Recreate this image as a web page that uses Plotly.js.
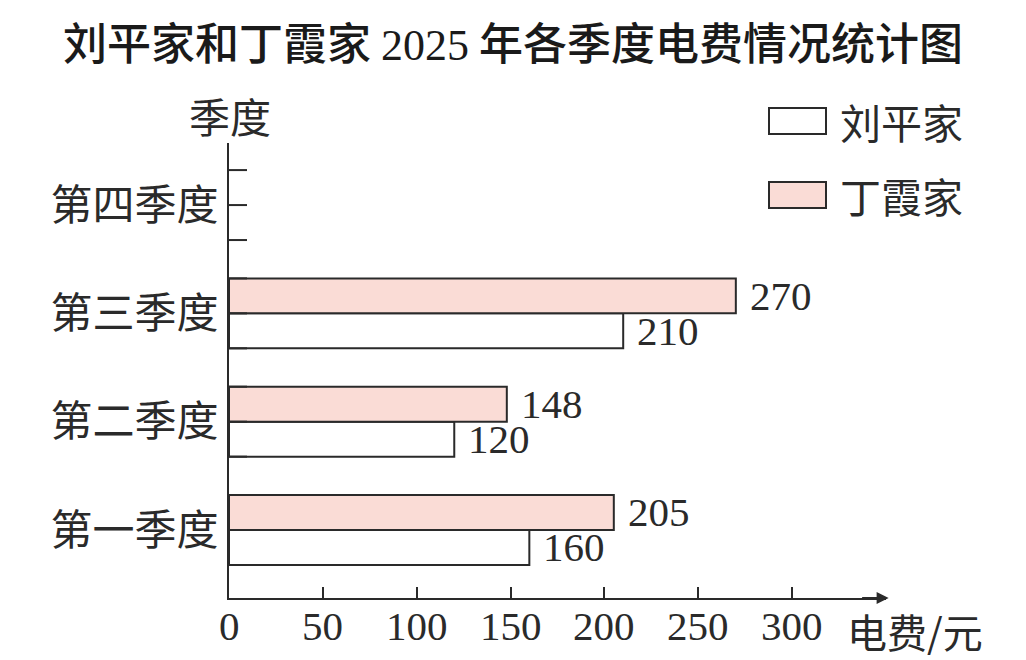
<!DOCTYPE html>
<html>
<head>
<meta charset="utf-8">
<script src="https://cdn.plot.ly/plotly-3.0.1.min.js"></script>
<style>html,body{margin:0;padding:0;background:#fff;}#chart{width:1026px;height:660px;}</style>
</head>
<body>
<div id="chart"></div>
<script>
const categories = ["第一季度", "第二季度", "第三季度", "第四季度"];
const seriesNames = ["刘平家", "丁霞家"];
const liuValues = [160, 120, 210, null];
const dingValues = [205, 148, 270, null];
const xTicks = [0, 50, 100, 150, 200, 250, 300];
const titleCJK1 = "刘平家和丁霞家";
const titleYear = "2025";
const titleCJK2 = "年各季度电费情况统计图";
const yTitle = "季度";
const xTitle = "电费/元";

const ink = "#2a2a2a";
const pink = "#fadcd6";
const cjk = "'Noto Sans CJK SC', 'Noto Sans', sans-serif";
const serif = "'Liberation Serif', 'DejaVu Serif', serif";
const bargap = 0.354;
const w = (1 - bargap) / 2;

const traces = [
  {type: "bar", orientation: "h", name: seriesNames[0], y: categories, x: liuValues,
   marker: {color: "#ffffff", line: {color: ink, width: 2}}, showlegend: false, hoverinfo: "x+name"},
  {type: "bar", orientation: "h", name: seriesNames[1], y: categories, x: dingValues,
   marker: {color: pink, line: {color: ink, width: 2}}, showlegend: false, hoverinfo: "x+name"}
];

const shapes = [];
categories.forEach((c, i) => {
  [-w, 0, w].forEach(o => {
    shapes.push({type: "line", xref: "x", yref: "y", xsizemode: "pixel", xanchor: 0,
      x0: 0, x1: 18, y0: i + o, y1: i + o, line: {color: ink, width: 2}});
  });
});

// legend boxes
const legendFills = ["#ffffff", pink];
const legendY = [121, 195];
const annotations = [];
legendFills.forEach((f, k) => {
  shapes.push({type: "rect", xref: "paper", yref: "paper",
    xsizemode: "pixel", ysizemode: "pixel", xanchor: (769 - 229) / 657, yanchor: (660 - legendY[k] - 62) / 455,
    x0: 0, x1: 57, y0: -13, y1: 13, fillcolor: f, line: {color: ink, width: 2}});
  annotations.push({xref: "paper", yref: "paper", x: (838 - 229) / 657, y: (660 - legendY[k] - 62) / 455,
    xanchor: "left", yanchor: "middle", showarrow: false, text: seriesNames[k],
    font: {family: cjk, size: 41, color: ink}});
});

// value labels
[liuValues, dingValues].forEach((vals, k) => {
  const off = k === 0 ? -w / 2 : w / 2;
  vals.forEach((v, i) => {
    if (v === null) return;
    annotations.push({xref: "x", yref: "y", x: v, y: i + off, xanchor: "left", yanchor: "middle",
      xshift: 12, showarrow: false, text: String(v), font: {family: serif, size: 41, color: ink}});
  });
});

// x tick labels
xTicks.forEach(t => {
  annotations.push({xref: "x", yref: "paper", x: t, y: 0, yshift: -28, xanchor: "center", yanchor: "middle",
    showarrow: false, text: String(t), font: {family: serif, size: 41, color: ink}});
});

// x axis arrow
annotations.push({xref: "paper", yref: "paper", x: 1.004, y: 0, ax: -28, ay: 0, axref: "pixel", ayref: "pixel",
  showarrow: true, arrowhead: 2, arrowsize: 1.2, arrowwidth: 2, arrowcolor: ink, text: ""});

// axis titles
annotations.push({xref: "paper", yref: "paper", x: 0, y: 1, xshift: 1, yshift: -4, xanchor: "center", yanchor: "bottom",
  showarrow: false, text: yTitle, font: {family: cjk, size: 41, color: ink}});
annotations.push({xref: "paper", yref: "paper", x: (845 - 229) / 657, y: 0, yshift: -33, xanchor: "left", yanchor: "middle",
  showarrow: false, text: xTitle, font: {family: cjk, size: 40, color: ink}});

const layout = {
  width: 1026, height: 660,
  paper_bgcolor: "#ffffff", plot_bgcolor: "#ffffff",
  margin: {l: 229, r: 140, t: 143, b: 62},
  title: {text: titleCJK1 + " <span style=\"font-family:" + serif.replace(/'/g, "") + ";font-weight:normal;font-size:44px\">" + titleYear + "</span> " + titleCJK2,
    x: 0.5, xref: "container", xanchor: "center", y: 1 - 45 / 660, yref: "container", yanchor: "middle",
    font: {family: cjk, size: 44, color: "#1a1a1a", weight: 500}},
  barmode: "group", bargap: bargap, bargroupgap: 0,
  xaxis: {range: [0, 350], tickvals: xTicks, showticklabels: false, ticks: "inside", ticklen: 11, tickwidth: 2,
    tickcolor: ink, showline: true, linecolor: ink, linewidth: 2, showgrid: false, zeroline: false, fixedrange: true},
  yaxis: {type: "category", categoryorder: "array", categoryarray: categories, range: [-0.628, 3.573],
    showline: true, linecolor: ink, linewidth: 2, ticks: "", showgrid: false, zeroline: false,
    tickfont: {family: cjk, size: 42, color: ink}, ticklabelstandoff: 0, fixedrange: true},
  shapes: shapes, annotations: annotations, showlegend: false
};

Plotly.newPlot("chart", traces, layout, {displayModeBar: false, staticPlot: true});
</script>
</body>
</html>
